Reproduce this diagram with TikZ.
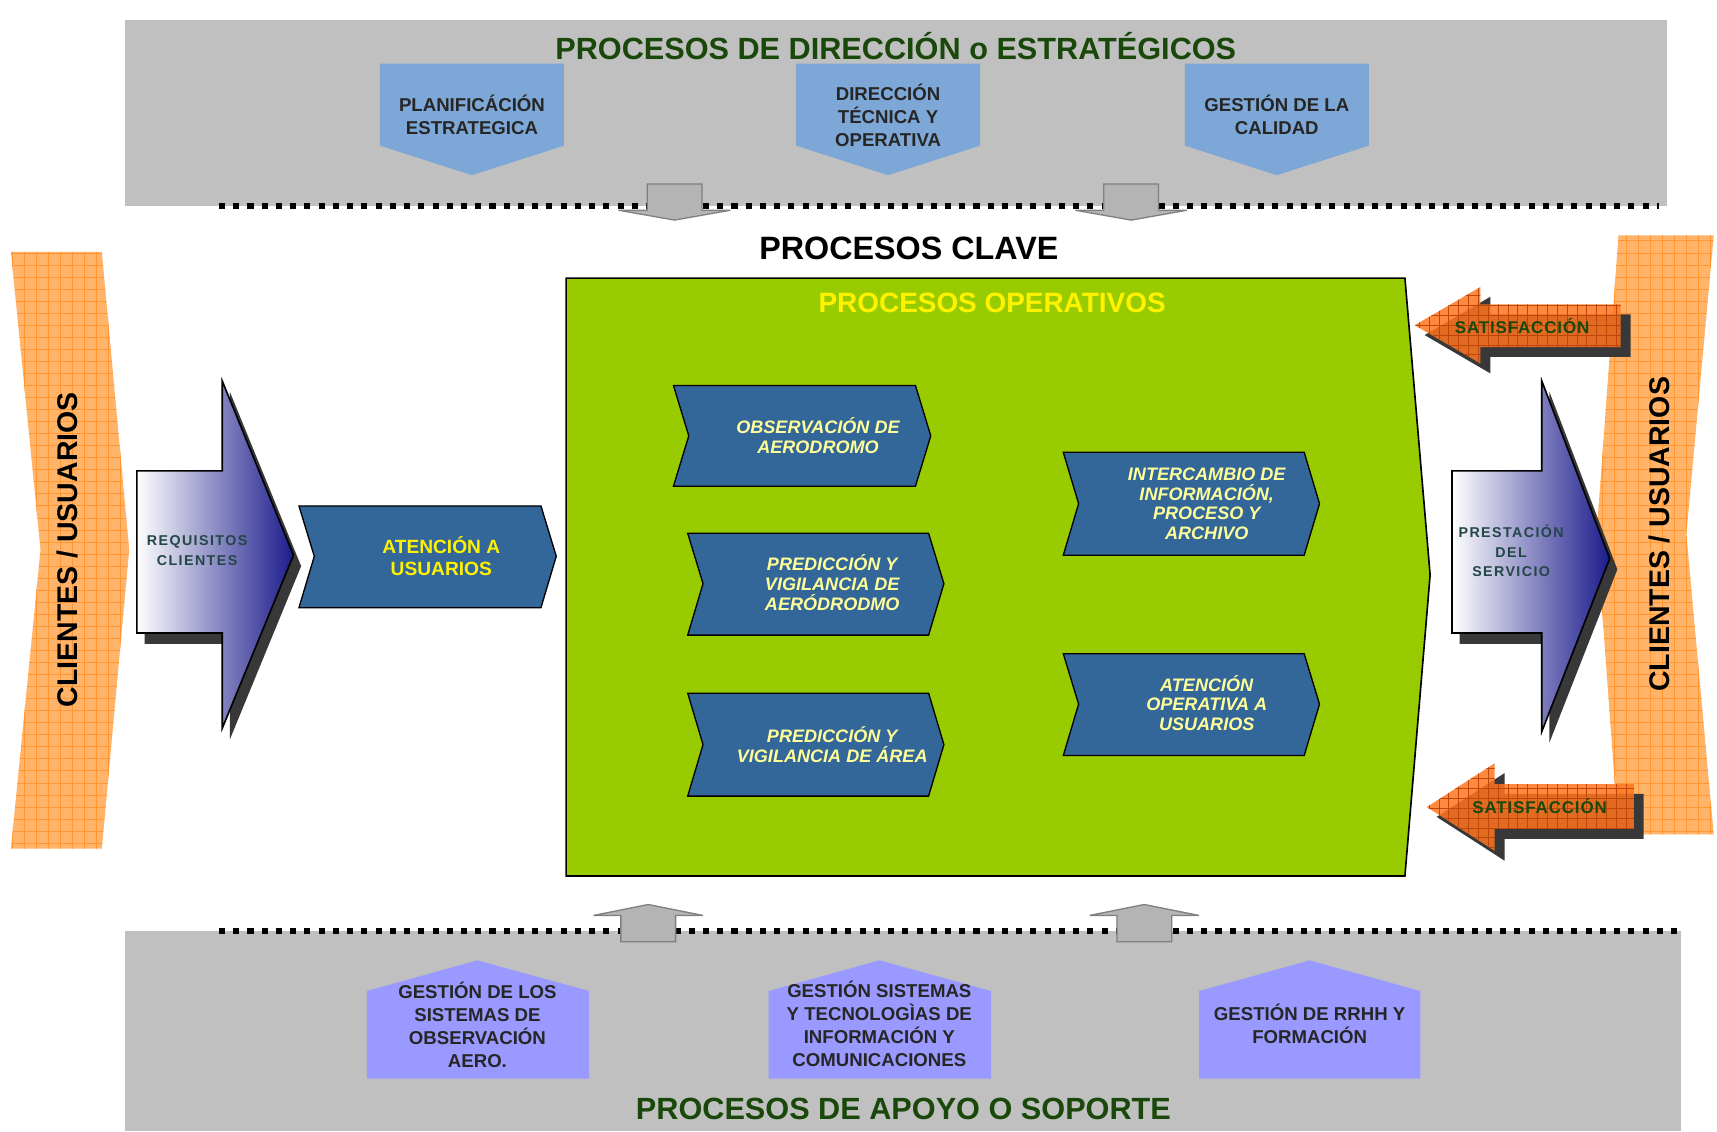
\documentclass[tikz,border=0pt]{standalone}
\usepackage{fontspec}
\setmainfont{Liberation Sans}
\usetikzlibrary{calc}

\definecolor{bandgray}{RGB}{192,192,192}
\definecolor{titlegreen}{RGB}{26,72,10}
\definecolor{topblue}{RGB}{124,167,214}
\definecolor{supportblue}{RGB}{153,153,255}
\definecolor{opgreen}{RGB}{153,204,0}
\definecolor{chevblue}{RGB}{51,102,153}
\definecolor{paleyellow}{RGB}{255,255,153}
\definecolor{clientorange}{RGB}{255,180,105}
\definecolor{gridorange}{RGB}{255,150,50}
\definecolor{satorange}{RGB}{255,118,30}
\definecolor{satgrid}{RGB}{190,70,10}
\definecolor{navy}{RGB}{28,28,140}
\definecolor{arrowgray}{RGB}{180,180,180}
\definecolor{textteal}{RGB}{35,70,70}

\begin{document}
\begin{tikzpicture}[
  x=1pt, y=-1pt, % one unit = one pixel of the layout, y grows downwards
  band/.style={fill=bandgray},
  dotline/.style={line width=5.5pt, dash pattern=on 5.5pt off 7.5pt}, % dotted border of the bands
  title/.style={inner sep=0, font=\fontsize{28}{30}\selectfont\bfseries, text=titlegreen},
  topbox/.style={fill=topblue},
  supbox/.style={fill=supportblue},
  boxtext/.style={inner sep=0, align=center, font=\fontsize{17}{21}\selectfont\bfseries, text=black!85},
  flow/.style={fill=arrowgray, draw=gray, line width=1.2pt}, % grey arrows between the bands
  chev/.style={fill=chevblue, draw=black, line width=1.2pt},
  chevtext/.style={inner sep=0, align=center, font=\fontsize{16.5}{18}\selectfont\bfseries\itshape, text=paleyellow},
  client/.style={inner sep=0, rotate=90, font=\fontsize{26}{28}\selectfont\bfseries},
  bigarrow/.style={left color=white, right color=navy, draw=black, line width=1.5pt},
  shadow/.style={fill=black!78},
  spaced/.style={inner sep=0, align=center, font=\fontsize{13}{18}\selectfont\bfseries\addfontfeatures{LetterSpace=10}, text=textteal},
  sattext/.style={inner sep=0, font=\fontsize{15.5}{17}\selectfont\bfseries\addfontfeatures{LetterSpace=5}, text=titlegreen}
  ]

  \fill[white] (0,0) rectangle (1568,1033);
  \useasboundingbox (0,0) rectangle (1568,1033);

  % direction band
  \fill[band] (114,18) rectangle (1522,188);
  \draw[dotline] (200,188) -- (1515,188);
  \node[title] (dirtitle) at (818,42) {PROCESOS DE DIRECCIÓN o ESTRATÉGICOS};

  \fill[topbox] (347,58) -- (515,58) -- (515,133) -- (431,160) -- (347,133) -- cycle;
  \fill[topbox] (727,58) -- (895,58) -- (895,133) -- (811,160) -- (727,133) -- cycle;
  \fill[topbox] (1082,58) -- (1250,58) -- (1250,133) -- (1166,160) -- (1082,133) -- cycle;
  \node[boxtext] (plan) at (431,105) {PLANIFICÁCIÓN\\ESTRATEGICA};
  \node[boxtext] (direc) at (811,105) {DIRECCIÓN\\TÉCNICA Y\\OPERATIVA};
  \node[boxtext] (calid) at (1166,105) {GESTIÓN DE LA\\CALIDAD};

  \foreach \cx in {616,1033}
    \draw[flow] (\cx-25,168) -- (\cx+25,168) -- (\cx+25,192) -- (\cx+51,192) -- (\cx,201) -- (\cx-51,192) -- (\cx-25,192) -- cycle;

  \node[inner sep=0, font=\fontsize{29.5}{31}\selectfont\bfseries] (clave) at (830,227) {PROCESOS CLAVE};

  % clients on both sides
  \begin{scope}
    \clip (10,230) -- (93,230) -- (118,502) -- (93,775) -- (10,775) -- (37,502) -- cycle;
    \fill[clientorange] (0,220) rectangle (130,790);
    \draw[gridorange, line width=0.8pt, step=11pt] (0,790) grid (130,220);
  \end{scope}
  \node[client] (cliL) at (62,502) {CLIENTES / USUARIOS};

  \begin{scope}
    \clip (1478,215) -- (1565,215) -- (1540,488) -- (1565,762) -- (1478,762) -- (1458,488) -- cycle;
    \fill[clientorange] (1450,205) rectangle (1570,770);
    \draw[gridorange, line width=0.8pt, step=11pt] (1450,770) grid (1570,205);
  \end{scope}
  \node[client] (cliR) at (1515,488) {CLIENTES / USUARIOS};

  % requirements in, service out
  \fill[shadow, shift={(7,10)}] (125,430) -- (203,430) -- (203,348) -- (268,507) -- (203,665) -- (203,578) -- (125,578) -- cycle;
  \draw[bigarrow] (125,430) -- (203,430) -- (203,348) -- (268,507) -- (203,665) -- (203,578) -- (125,578) -- cycle;
  \node[spaced] (req) at (180,503) {REQUISITOS\\CLIENTES};

  \fill[shadow, shift={(7,10)}] (1326,430) -- (1408,430) -- (1408,348) -- (1470,510) -- (1408,668) -- (1408,578) -- (1326,578) -- cycle;
  \draw[bigarrow] (1326,430) -- (1408,430) -- (1408,348) -- (1470,510) -- (1408,668) -- (1408,578) -- (1326,578) -- cycle;
  \node[spaced] (prest) at (1380,503) {PRESTACIÓN\\DEL\\SERVICIO};

  \draw[chev] (273,462) -- (494,462) -- (508,508) -- (494,555) -- (273,555) -- (287,508) -- cycle;
  \node[inner sep=0, align=center, font=\fontsize{17.5}{20}\selectfont\bfseries, text=yellow] (atenc) at (403,508) {ATENCIÓN A\\USUARIOS};

  % operative processes
  \draw[fill=opgreen, line width=1.5pt] (517,254) -- (1283,254) -- (1306,525) -- (1283,800) -- (517,800) -- cycle;
  \node[inner sep=0, font=\fontsize{25.5}{27}\selectfont\bfseries, text=yellow] (optitle) at (906,277) {PROCESOS OPERATIVOS};

  \draw[chev] (615,352) -- (836,352) -- (850,398) -- (836,444) -- (615,444) -- (629,398) -- cycle;
  \draw[chev] (628,487) -- (848,487) -- (862,533) -- (848,580) -- (628,580) -- (642,533) -- cycle;
  \draw[chev] (628,633) -- (848,633) -- (862,680) -- (848,727) -- (628,727) -- (642,680) -- cycle;
  \draw[chev] (971,413) -- (1191,413) -- (1205,460) -- (1191,507) -- (971,507) -- (985,460) -- cycle;
  \draw[chev] (971,597) -- (1191,597) -- (1205,643) -- (1191,690) -- (971,690) -- (985,643) -- cycle;
  \node[chevtext] (obs) at (747,398) {OBSERVACIÓN DE\\AERODROMO};
  \node[chevtext] (predaero) at (760,532) {PREDICCIÓN Y\\VIGILANCIA DE\\AERÓDRODMO};
  \node[chevtext] (predarea) at (760,680) {PREDICCIÓN Y\\VIGILANCIA DE ÁREA};
  \node[chevtext] (interc) at (1102,460) {INTERCAMBIO DE\\INFORMACIÓN,\\PROCESO Y\\ARCHIVO};
  \node[chevtext] (atop) at (1102,642) {ATENCIÓN\\OPERATIVA A\\USUARIOS};

  % satisfaction back from the clients
  \fill[shadow, shift={(9,9)}] (1292,297) -- (1352,262) -- (1352,278) -- (1480,278) -- (1480,317) -- (1352,317) -- (1352,332) -- cycle;
  \begin{scope}[fill opacity=0.85]
    \clip (1292,297) -- (1352,262) -- (1352,278) -- (1480,278) -- (1480,317) -- (1352,317) -- (1352,332) -- cycle;
    \fill[satorange] (1285,255) rectangle (1485,340);
    \draw[satgrid, line width=0.6pt, step=9pt] (1285,340) grid (1485,255);
  \end{scope}
  \node[sattext] (satA) at (1390,298) {SATISFACCIÓN};

  \fill[shadow, shift={(9,9)}] (1303,737) -- (1365,697) -- (1365,716) -- (1492,716) -- (1492,757) -- (1365,757) -- (1365,777) -- cycle;
  \begin{scope}[fill opacity=0.85]
    \clip (1303,737) -- (1365,697) -- (1365,716) -- (1492,716) -- (1492,757) -- (1365,757) -- (1365,777) -- cycle;
    \fill[satorange] (1295,690) rectangle (1500,785);
    \draw[satgrid, line width=0.6pt, step=9pt] (1295,785) grid (1500,690);
  \end{scope}
  \node[sattext] (satB) at (1406,736) {SATISFACCIÓN};

  % support band
  \fill[band] (114,850) rectangle (1535,1033);
  \draw[dotline] (200,850) -- (1532,850);
  \foreach \cx in {592,1045}
    \draw[flow] (\cx-25,860) -- (\cx+25,860) -- (\cx+25,836) -- (\cx+50,836) -- (\cx,826) -- (\cx-50,836) -- (\cx-25,836) -- cycle;

  \fill[supbox] (335,985) -- (335,905) -- (436,877) -- (538,905) -- (538,985) -- cycle;
  \fill[supbox] (702,985) -- (702,905) -- (803,877) -- (905,905) -- (905,985) -- cycle;
  \fill[supbox] (1095,985) -- (1095,905) -- (1196,877) -- (1297,905) -- (1297,985) -- cycle;
  \node[boxtext] (obsys) at (436,936) {GESTIÓN DE LOS\\SISTEMAS DE\\OBSERVACIÓN\\AERO.};
  \node[boxtext] (tic) at (803,935) {GESTIÓN SISTEMAS\\Y TECNOLOGÌAS DE\\INFORMACIÓN Y\\COMUNICACIONES};
  \node[boxtext] (rrhh) at (1196,935) {GESTIÓN DE RRHH Y\\FORMACIÓN};

  \node[title] (suptitle) at (825,1013) {PROCESOS DE APOYO O SOPORTE};
\end{tikzpicture}
\end{document}
